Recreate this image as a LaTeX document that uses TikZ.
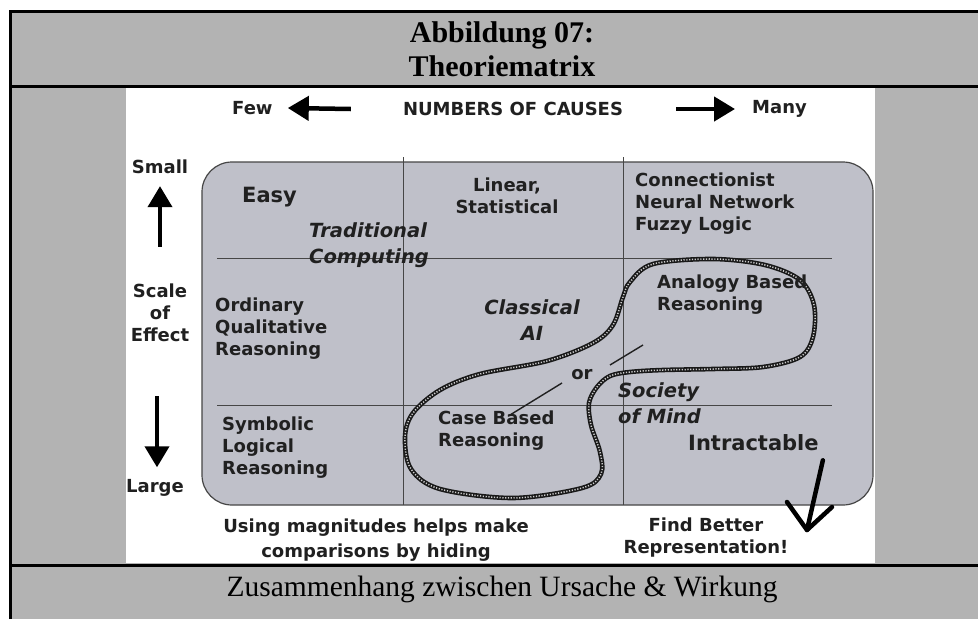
\documentclass[tikz,border=0pt]{standalone}
\usepackage{fontspec}
\setmainfont{Liberation Serif}
\newfontfamily\diagfont{DejaVu Sans}
\usetikzlibrary{arrows.meta,positioning}

\definecolor{framegray}{RGB}{179,179,179}
\definecolor{matrixfill}{RGB}{191,192,201}
\definecolor{gridline}{RGB}{70,70,70}
\definecolor{inkdark}{RGB}{32,32,32}

\newcommand\pxsize[2]{\fontsize{#1}{#2}\selectfont}

\tikzset{
  celltext/.style={font=\diagfont\bfseries\pxsize{18}{22}, text=inkdark, inner sep=0pt, align=left},
  celltag/.style={font=\diagfont\bfseries\itshape\pxsize{19.5}{26}, text=inkdark, inner sep=0pt, align=left},
  bigword/.style={celltext, font=\diagfont\bfseries\pxsize{21}{24}},
  thickarrow/.style={draw=black, line width=4.5pt, -{Triangle[length=21pt,width=24pt]}},
  handstroke/.style={draw=black, line width=4.5pt, line cap=round, line join=round},
  framerule/.style={draw=black, line width=3pt},
  gridrule/.style={draw=gridline, line width=1pt},
  ropeline/.style={draw=gray!40, line width=1.5pt, dash pattern=on 1.2pt off 1.6pt,
    preaction={draw=black!90, solid, line width=4.6pt}}
}

\begin{document}
\begin{tikzpicture}[x=1pt, y=-1pt]
\useasboundingbox (0,0) rectangle (978,619);

% frame of the table
\fill[white] (0,0) rectangle (978,619);
\fill[framegray] (10,11) rectangle (978,619);
\fill[white] (126,87) rectangle (875,563);
\draw[framerule] (10,619) -- (10,11) -- (978,11);
\draw[framerule] (10,86) -- (978,86);
\draw[framerule] (10,565) -- (978,565);

\node (title) [anchor=base, font=\bfseries\pxsize{30}{34}] at (502,42) {Abbildung 07:};
\node (subtitle) [anchor=base, font=\bfseries\pxsize{30}{34}] at (502,76) {Theoriematrix};
\node (caption) [anchor=base, font=\pxsize{29.5}{34}] at (502,596) {Zusammenhang zwischen Ursache \& Wirkung};

% axis labels
\node (causes) [celltext] at (513,109) {NUMBERS OF CAUSES};
\node (few) [celltext, anchor=west] at (232,108) {Few};
\node (many) [celltext, anchor=west] at (752,109) {Many};
\draw[thickarrow] ([xshift=-52pt]causes.west) -- ([xshift=15pt]few.east);
\draw[thickarrow] ([xshift=53pt]causes.east) -- ([xshift=-17pt]many.west);

\node (small) [celltext] at (160,167) {Small};
\node (scale) [celltext, align=center] at (160,313) {Scale\\of\\Effect};
\node (large) [celltext] at (155,488) {Large};
\draw[thickarrow, line width=4pt] ([yshift=37pt]scale.north) -- ([yshift=-12pt]small.south);
\draw[thickarrow, line width=4pt] ([xshift=-3pt,yshift=-54pt]scale.south) -- ([xshift=2pt,yshift=12pt]large.north);

% the matrix
\draw[draw=gray!55!black, line width=1.2pt, fill=matrixfill, rounded corners=30pt] (202,162) rectangle (873,505);
\draw[gridrule] (403,157) -- (403,505);
\draw[gridrule] (623,157) -- (623,505);
\draw[gridrule] (217,258) -- (832,258);
\draw[gridrule] (217,405) -- (832,405);

\node (easy) [bigword, anchor=west] at (242,197) {Easy};
\node (tradcomp) [celltag, anchor=west] at (309,245) {Traditional\\Computing};
\node (linear) [celltext, align=center] at (507,196) {Linear,\\Statistical};
\node (connect) [celltext, anchor=west] at (635,204) {Connectionist\\Neural Network\\Fuzzy Logic};
\node (ordinary) [celltext, anchor=west] at (215,329) {Ordinary\\Qualitative\\Reasoning};
\node (classical) [celltag, align=center] at (532,320) {Classical\\AI};
\node (symbolic) [celltext, anchor=west] at (222,448) {Symbolic\\Logical\\Reasoning};
\node (intract) [bigword, anchor=west] at (688,443) {Intractable};

% the blob round the hybrid approaches
\draw[ropeline] plot[smooth cycle, tension=0.55] coordinates {
  (630,282) (653,264) (713,259) (765,265) (800,280) (814,305) (813,337)
  (800,357) (763,367) (713,369) (663,370) (630,372) (610,376) (597,387)
  (589,403) (591,425) (600,452) (601,474) (582,488) (513,498) (440,489)
  (411,469) (405,437) (413,413) (440,390) (480,374) (547,361) (593,343)
  (613,325) (623,297)};

\node (analogy) [celltext, anchor=west] at (657,295) {Analogy Based\\Reasoning};
\node (casebased) [celltext, anchor=west] at (438,431) {Case Based\\Reasoning};
\node (or) [celltext] at (582,375) {or};
\node (society) [celltag, anchor=west] at (618,403) {Society\\of Mind};
\draw[gridrule, line width=1.4pt, draw=inkdark] ([shift={(-20pt,-8pt)}]or.center) -- ([shift={(12pt,-5pt)}]casebased.north);
\draw[gridrule, line width=1.4pt, draw=inkdark] ([shift={(28pt,10pt)}]or.center) -- ([shift={(61pt,30pt)}]or.center);

% below the matrix
\node (magnitudes) [celltext, align=center, font=\diagfont\bfseries\pxsize{18}{25}] at (376,540) {Using magnitudes helps make\\comparisons by hiding};
\node (findbetter) [celltext, align=center] at (706,538) {Find Better\\Representation!};
\coordinate (arrtip) at (807,530);
\draw[handstroke] ([shift={(4pt,-9pt)}]intract.south east) -- (arrtip);
\draw[handstroke] ([shift={(-20pt,28pt)}]arrtip) -- (arrtip) -- ([shift={(25pt,23pt)}]arrtip);

\end{tikzpicture}
\end{document}
